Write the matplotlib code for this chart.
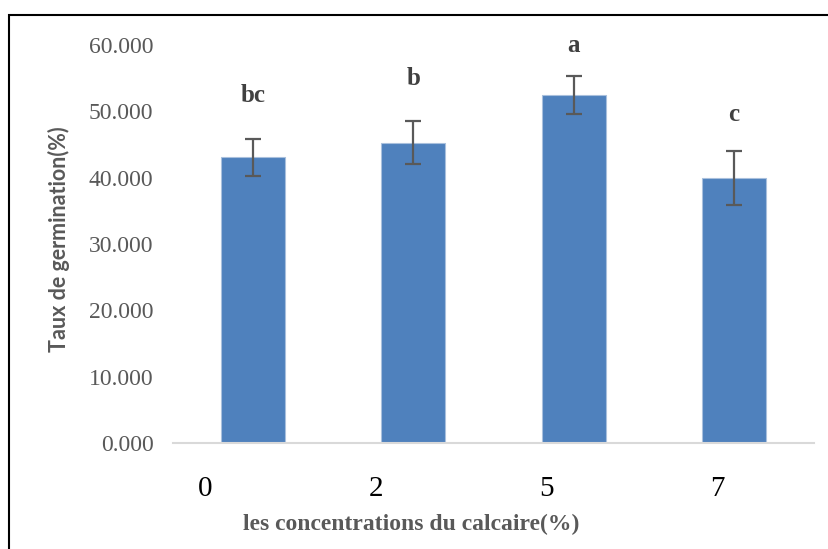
import matplotlib.pyplot as plt
import matplotlib.patches as patches
import numpy as np

# data
concentrations = ["0", "2", "5", "7"]
germination = [43.05, 45.25, 52.45, 39.95]
errors = [2.8, 3.25, 2.85, 4.0]
letters = ["bc", "b", "a", "c"]
letter_y = [51.4, 53.95, 58.9, 48.5]
yticks = [0, 10, 20, 30, 40, 50, 60]

W, H = 829, 549
fig = plt.figure(figsize=(W/100, H/100), dpi=100)
ax = fig.add_axes([173/W, 1-443/H, (814-173)/W, (443-45)/H])

x = np.arange(len(concentrations))
ax.bar(x, germination, width=0.4, color="#4F81BD", edgecolor="#A9C0DD", linewidth=0.8, zorder=2)
ax.errorbar(x, germination, yerr=errors, fmt="none", ecolor="#595959",
            elinewidth=1.6, capsize=6, capthick=1.6, zorder=3)

for xi, lab, ly in zip(x, letters, letter_y):
    ax.text(xi, ly, lab, ha="center", va="baseline", fontsize=18, fontweight="bold",
            family="Liberation Serif", color="#404040")

ax.set_xlim(-0.5, 3.5)
ax.set_ylim(0, 60)
ax.set_yticks(yticks)
ax.set_yticklabels(["{:.3f}".format(v) for v in yticks], family="Liberation Serif",
                   fontsize=17, color="#595959")
# in the reference the category labels sit on a slightly wider spacing than the bars
ax.set_xticks(np.linspace(-0.30, 2.894, len(concentrations)))
ax.set_xticklabels(concentrations, family="Liberation Serif", fontsize=21, color="black")
ax.tick_params(axis="y", length=0, pad=14)
ax.tick_params(axis="x", length=0, pad=24)

for s in ["top", "right", "left"]:
    ax.spines[s].set_visible(False)
ax.spines["bottom"].set_color("#D9D9D9")
ax.spines["bottom"].set_linewidth(1.5)

fig.text(59/W, 1-239/H, "Taux de germination(%)", rotation=90, ha="center", va="center",
         family="Lato", fontweight="bold", fontsize=15.5, color="#595959")
fig.text(411/W, 1-530/H, "les concentrations du calcaire(%)", ha="center", va="baseline",
         family="Liberation Serif", fontweight="bold", fontsize=17, color="#595959")

# outer border (only left and top edges visible in the reference)
border = patches.Rectangle((9/W, -0.1), 1.2, 1-15/H+0.1, transform=fig.transFigure,
                           fill=False, edgecolor="black", linewidth=1.5, clip_on=False)
fig.patches.append(border)

fig.savefig("out.png", dpi=100)
